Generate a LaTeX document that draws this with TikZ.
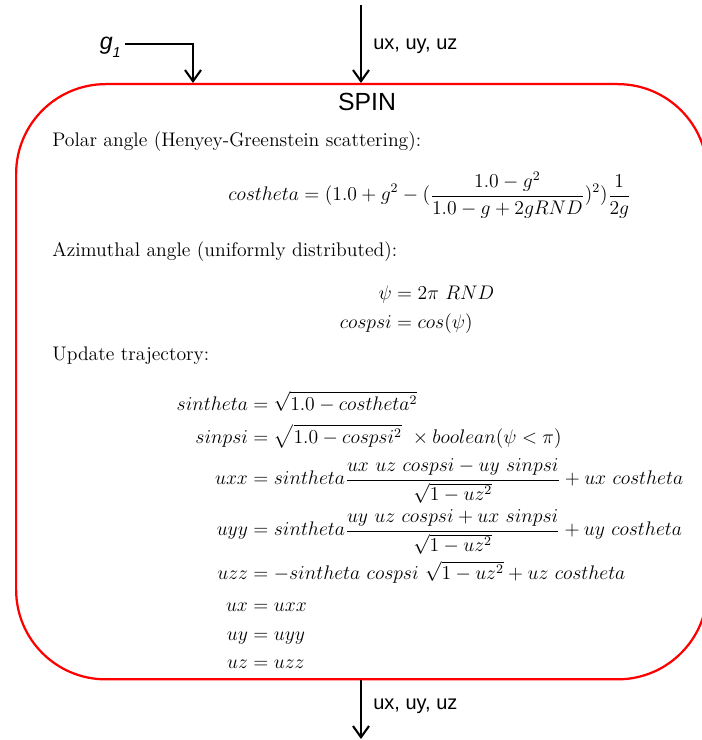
\documentclass[12pt,tikz,border=0pt]{standalone}
\usepackage{amsmath}
\usepackage{fontspec}
\newfontfamily\labfont{Liberation Sans}
\usetikzlibrary{arrows.meta}
\begin{document}
\begin{tikzpicture}[x=0.625pt,y=-0.625pt,
  arr/.style={line width=1.3pt, -{Straight Barb[length=7pt,width=10pt]}},
  spinbox/.style={draw=red, line width=1.4pt, rounded corners=56pt, inner sep=0pt,
     minimum width=432pt, minimum height=372pt},
  lab/.style={font=\labfont\fontsize{12.5}{15}\selectfont, inner sep=0pt},
  title/.style={font=\labfont\fontsize{15.5}{18}\selectfont, inner sep=0pt},
  txt/.style={font=\fontsize{12}{14.5}\selectfont, inner sep=0pt, anchor=base west, scale=1.025},
  eq/.style={font=\fontsize{12}{14.5}\selectfont, inner sep=0pt, scale=1.025}]
\useasboundingbox (0,0) rectangle (701,740);

% main box
\node[spinbox, anchor=north west] (box) at (15,83) {};
\node[title] (spin) at (367,102) {SPIN};

% inputs
\coordinate (uin) at (361,5);
\draw[arr] (uin) -- (uin |- box.north);
\node[lab, anchor=west] (uinlab) at (373,46) {ux, uy, uz};

\node[inner sep=0pt, anchor=base east, font=\labfont\itshape\fontsize{14.5}{17}\selectfont] (g1) at (121,50)
  {g\raisebox{-5pt}{\fontsize{9}{11}\selectfont 1}};
\coordinate (gcorner) at (193,44);
\coordinate (gstart) at (125,44);
\draw[arr] (gstart) -- (gcorner) -- (gcorner |- box.north);

% output
\coordinate (uout) at (361,739);
\draw[arr] (uout |- box.south) -- (uout);
\node[lab, anchor=west] (uoutlab) at (373,706) {ux, uy, uz};

% contents
\node[txt] (t1) at (52,147) {Polar angle (Henyey-Greenstein scattering):};
\node[eq, anchor=base west] (e1) at (228,201)
  {$\displaystyle costheta=(1.0+g^2-(\frac{1.0-g^2}{1.0-g+2gRND})^2)\frac{1}{2g}$};

\node[txt] (t2) at (52,256) {Azimuthal angle (uniformly distributed):};
\node[eq, anchor=north] (e2) at (417,283)
  {$\begin{aligned} \psi &= 2\pi\ RND\\ cospsi &= cos(\psi)\end{aligned}$};

\node[txt] (t3) at (52,360) {Update trajectory:};
\node[eq, anchor=north] (e3) at (430,391)
  {$\begin{aligned}
  sintheta &= \sqrt{1.0-costheta^2}\\
  sinpsi &= \sqrt{1.0-cospsi^2}\ \times boolean(\psi<\pi)\\[1pt]
  uxx &= sintheta\frac{ux\ uz\ cospsi-uy\ sinpsi}{\sqrt{1-uz^2}}+ux\ costheta\\
  uyy &= sintheta\frac{uy\ uz\ cospsi+ux\ sinpsi}{\sqrt{1-uz^2}}+uy\ costheta\\
  uzz &= -sintheta\ cospsi\ \sqrt{1-uz^2}+uz\ costheta\\[2pt]
  ux &= uxx\\
  uy &= uyy\\
  uz &= uzz
  \end{aligned}$};
\end{tikzpicture}
\end{document}
